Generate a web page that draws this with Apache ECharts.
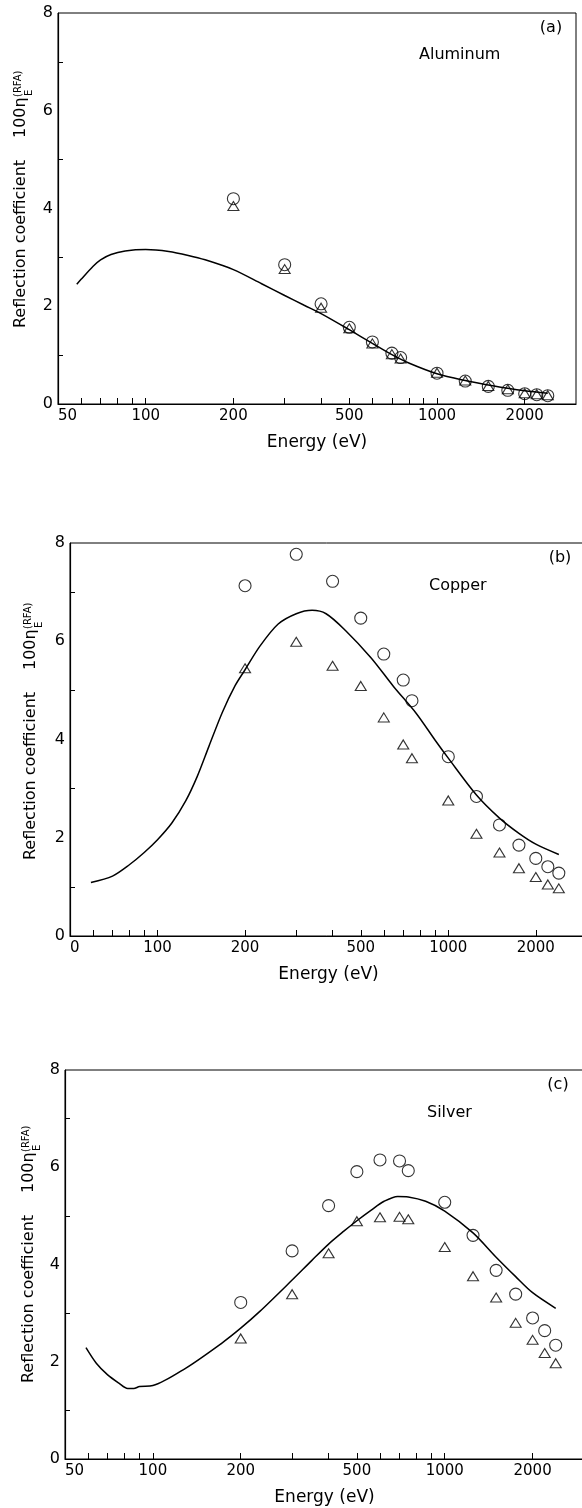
<!DOCTYPE html>
<html><head><meta charset="utf-8">
<script src="https://cdn.jsdelivr.net/npm/echarts@6/dist/echarts.min.js"></script>
<style>html,body{margin:0;padding:0;background:#fff}#c{width:582px;height:1508px}</style>
</head><body><div id="c"></div>
<script>
// ---------- data ----------
const energies = [200,300,400,500,600,700,750,1000,1250,1500,1750,2000,2200,2400];

const alCircles   = [4.2,2.85,2.05,1.57,1.27,1.04,0.95,0.63,0.47,0.36,0.28,0.21,0.19,0.17];
const alTriangles = [4.05,2.76,1.97,1.55,1.24,1.02,0.93,0.64,0.48,0.37,0.30,0.22,0.20,0.18];
const alCurveE = [58,60,66,70,76,85,100,120,140,160,200,250,300,350,400,500,600,700,800,1000,1250,1500,1750,2000,2400];
const alCurveV = [2.45,2.55,2.82,2.95,3.06,3.13,3.16,3.12,3.04,2.95,2.75,2.46,2.22,2.02,1.85,1.52,1.24,1.01,0.84,0.62,0.48,0.39,0.32,0.27,0.22];

const cuCircles   = [7.13,7.77,7.22,6.47,5.74,5.21,4.79,3.65,2.84,2.26,1.85,1.58,1.41,1.28];
const cuTriangles = [5.45,5.99,5.50,5.09,4.45,3.90,3.62,2.76,2.08,1.70,1.38,1.20,1.05,0.97];
const cuCurveE = [59,70,80,90,100,112,125,137,150,167,185,200,225,260,300,340,380,443,543,648,774,900,1000,1250,1500,1750,2000,2400];
const cuCurveV = [1.09,1.22,1.45,1.70,1.96,2.30,2.75,3.25,3.85,4.55,5.10,5.42,5.90,6.35,6.56,6.63,6.56,6.22,5.66,5.08,4.54,3.99,3.62,2.87,2.40,2.09,1.87,1.66];

const agCircles   = [3.22,4.28,5.21,5.91,6.15,6.13,5.93,5.28,4.60,3.88,3.39,2.90,2.64,2.34];
const agTriangles = [2.48,3.39,4.23,4.89,4.97,4.98,4.93,4.36,3.76,3.32,2.80,2.45,2.18,1.97];
const agCurveE = [59,64,70,76.5,82,86,90,100,129,172,200,232,300,350,400,450,500,560,620,690,750,860,1000,1250,1500,1750,2000,2400];
const agCurveV = [2.29,1.97,1.73,1.56,1.45,1.45,1.49,1.51,1.86,2.38,2.69,3.03,3.68,4.08,4.42,4.68,4.90,5.12,5.30,5.40,5.39,5.30,5.10,4.65,4.15,3.75,3.42,3.10];

// axis ticks / labels
const xLabelValues = [50,100,200,500,1000,2000];
const xLabelsA = ['50','100','200','500','1000','2000'];
const xLabelsB = ['0','100','200','500','1000','2000'];
const xLabelsC = ['50','100','200','500','1000','2000'];
const xTickValues = [60,70,80,90,100,200,300,400,500,600,700,800,900,1000,2000];
const yLabelValues = [0,2,4,6,8];
const yTickValues = [1,3,5,7];
const xMinE = 50, xMaxE = 3000;

const panelTags = ['(a)','(b)','(c)'];
const panelNames = ['Aluminum','Copper','Silver'];

// ---------- build ----------
const lg = Math.log10;
const FONT = 'DejaVu Sans';
const grids = [
  {left:58, top:13, width:518, height:391},
  {left:70, top:543, width:517, height:393},
  {left:65, top:1070, width:519, height:389}
];

function labelFor(labels){
  return function(v){
    let best=0, bd=1e9;
    xLabelValues.forEach((e,i)=>{const d=Math.abs(lg(e)-v); if(d<bd){bd=d;best=i;}});
    return labels[best];
  };
}
function xAxis(gi, labels){
  return {
    type:'value', gridIndex:gi, min:lg(xMinE), max:lg(xMaxE),
    axisLine:{show:true, onZero:false, lineStyle:{color:'#000', width:1.2}},
    axisTick:{show:true, inside:true, length:6, customValues:xTickValues.map(lg), lineStyle:{color:'#000', width:1}},
    axisLabel:{show:true, customValues:xLabelValues.map(lg), formatter:labelFor(labels), color:'#000', fontSize:15, fontFamily:FONT, margin:5, alignMinLabel:'left', showMinLabel:true, showMaxLabel:true},
    splitLine:{show:false},
    name:'Energy (eV)', nameLocation:'middle', nameGap:30,
    nameTextStyle:{color:'#000', fontSize:17, fontFamily:FONT}
  };
}
function yAxis(gi){
  return {
    type:'value', gridIndex:gi, min:0, max:8, interval:2,
    axisLine:{show:true, onZero:false, lineStyle:{color:'#000', width:1.2}},
    axisTick:{show:true, inside:true, length:5, customValues:yTickValues, lineStyle:{color:'#000', width:1}},
    axisLabel:{show:true, customValues:yLabelValues, color:'#000', fontSize:16, fontFamily:FONT, margin:5},
    splitLine:{show:false}
  };
}
function curve(gi, E, V){
  return {type:'line', xAxisIndex:gi, yAxisIndex:gi, data:E.map((e,i)=>[lg(e),V[i]]),
    symbol:'none', showSymbol:false, smooth:0.3, lineStyle:{color:'#000', width:1.5}, silent:true, z:3};
}
function pts(gi, V, sym, size){
  return {type:'scatter', xAxisIndex:gi, yAxisIndex:gi, data:energies.map((e,i)=>[lg(e),V[i]]),
    symbol:sym, symbolSize:size, silent:true, z:4,
    itemStyle:{color:'rgba(0,0,0,0)', borderColor:'#000', borderWidth:1.1}};
}

const yTitlePos = [[21,404],[31,936],[29,1459]];
function yTitle(p){
  const tf = '16px "DejaVu Sans"';
  return {type:'group', x:p[0], y:p[1], rotation:Math.PI/2, silent:true, children:[
    {type:'text', style:{text:'Reflection coefficient', x:160, y:0, align:'center', verticalAlign:'middle', font:tf, fill:'#000'}},
    {type:'text', style:{text:'100η', x:266, y:0, align:'left', verticalAlign:'middle', font:tf, fill:'#000'}},
    {type:'text', style:{text:'(RFA)', x:307, y:-3, align:'left', verticalAlign:'middle', font:'10px "DejaVu Sans"', fill:'#000'}},
    {type:'text', style:{text:'E', x:308, y:8, align:'left', verticalAlign:'middle', font:'10px "DejaVu Sans"', fill:'#000'}}
  ]};
}
const tagPos = [[551,28],[560,558],[558,1085]];
const namePos = [[419,55],[429,586],[427,1113]];
const graphics = [];
for(let i=0;i<3;i++){
  graphics.push(yTitle(yTitlePos[i]));
  graphics.push({type:'text', silent:true, style:{text:panelTags[i], x:tagPos[i][0], y:tagPos[i][1], align:'center', verticalAlign:'middle', font:'16px "DejaVu Sans"', fill:'#000'}});
  graphics.push({type:'text', silent:true, style:{text:panelNames[i], x:namePos[i][0], y:namePos[i][1], align:'left', verticalAlign:'middle', font:'16px "DejaVu Sans"', fill:'#000'}});
}

const option = {
  backgroundColor:'#fff',
  animation:false,
  grid: grids.map(g=>Object.assign({show:true, borderColor:'#000', borderWidth:1, backgroundColor:'rgba(0,0,0,0)', containLabel:false, outerBoundsMode:'none'}, g)),
  xAxis:[xAxis(0,xLabelsA), xAxis(1,xLabelsB), xAxis(2,xLabelsC)],
  yAxis:[yAxis(0), yAxis(1), yAxis(2)],
  series:[
    curve(0, alCurveE, alCurveV), pts(0, alCircles, 'circle', 12), pts(0, alTriangles, 'triangle', [11,9]),
    curve(1, cuCurveE, cuCurveV), pts(1, cuCircles, 'circle', 12), pts(1, cuTriangles, 'triangle', [11,9]),
    curve(2, agCurveE, agCurveV), pts(2, agCircles, 'circle', 12), pts(2, agTriangles, 'triangle', [11,9])
  ],
  graphic: graphics
};
const chart = echarts.init(document.getElementById('c'), null, {renderer:'canvas'});
chart.setOption(option);
</script>
</body></html>
